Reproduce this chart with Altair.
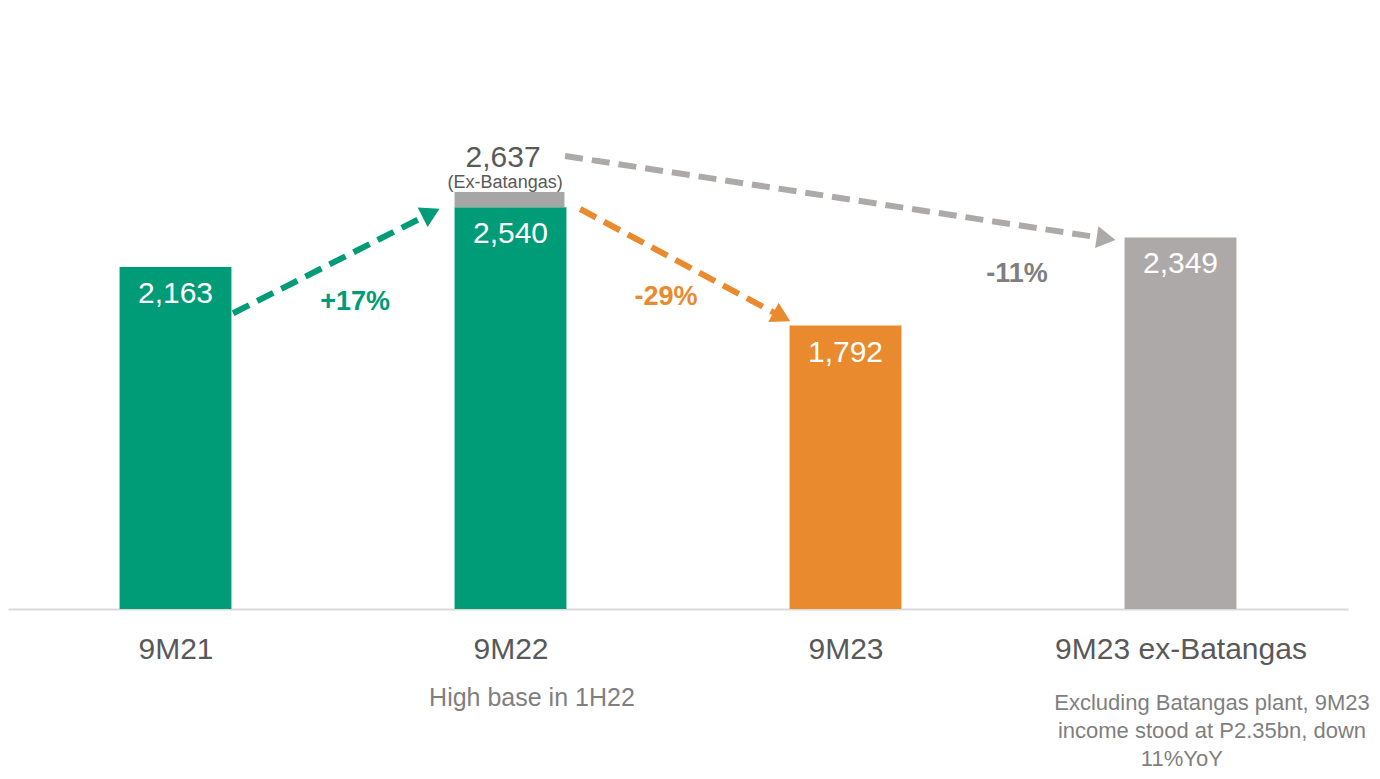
import math
import altair as alt
import pandas as pd

# ---- data ----
categories = ["9M21", "9M22", "9M23", "9M23 ex-Batangas"]
values = [2163, 2540, 1792, 2349]
value_labels = ["2,163", "2,540", "1,792", "2,349"]
bar_colors = ["#009B77", "#009B77", "#E98A2E", "#ADA9A8"]

cap_base = 2540
cap_value = 2637
cap_label = "2,637"
cap_sublabel = "(Ex-Batangas)"

pct_labels = ["+17%", "-29%", "-11%"]
pct_x = [0.536, 1.464, 2.512]
pct_y = [1890, 1922, 2070]
pct_colors = ["#009B77", "#E98A2E", "#7F7F7F"]

arrow_x1 = [0.172, 1.208, 1.163]
arrow_y1 = [1870, 2529, 2864]
arrow_x2 = [0.763, 1.810, 2.778]
arrow_y2 = [2504, 1847, 2342]
arrow_colors = ["#009B77", "#E98A2E", "#ADA9A8"]

notes = ["High base in 1H22",
         "Excluding Batangas plant, 9M23",
         "income stood at P2.35bn, down",
         "11%YoY"]
notes_x = [1.064, 3.094, 3.094, 3.004]
notes_y = [-613, -639, -816, -993]
notes_size = [25, 22, 22, 22]

# ---- layout constants ----
W, H = 1340, 601
Y_MAX = 3800
X_DOM = [-0.5, 3.5]
px_x = W / (X_DOM[1] - X_DOM[0])
px_y = H / Y_MAX
half = 0.167
FONT = "Liberation Sans"

bars = pd.DataFrame({
    "pos": list(range(len(categories))),
    "cat": categories,
    "value": values,
    "label": value_labels,
    "color": bar_colors,
})
bars["x1"] = bars["pos"] - half
bars["x2"] = bars["pos"] + half
bars["zero"] = 0

arrows = pd.DataFrame({
    "x1": arrow_x1, "y1": arrow_y1, "x2": arrow_x2, "y2": arrow_y2,
    "color": arrow_colors,
})
arrows["angle"] = [
    (math.degrees(math.atan2((b - a) * px_x, (d - c) * px_y)) + 360) % 360
    for a, b, c, d in zip(arrow_x1, arrow_x2, arrow_y1, arrow_y2)
]

xscale = alt.Scale(domain=X_DOM, nice=False, zero=False)
yscale = alt.Scale(domain=[0, Y_MAX], nice=False)

label_expr = "[" + ",".join(f"'{c}'" for c in categories) + "][datum.value]"

base = alt.Chart(bars)

bar_layer = base.mark_bar().encode(
    x=alt.X("x1:Q", scale=xscale,
            axis=alt.Axis(values=[0, 1, 2, 3], labelExpr=label_expr, title=None,
                          ticks=False, grid=False, domainColor="#D9D9D9",
                          domainWidth=2, labelFontSize=30, labelColor="#595959",
                          labelFont=FONT, labelPadding=25, labelFlush=False,
                          labelOverlap=False, labelLimit=0)),
    x2="x2:Q",
    y=alt.Y("value:Q", scale=yscale, axis=None),
    y2="zero:Q",
    color=alt.Color("color:N", scale=None),
)

value_text = base.mark_text(font=FONT, fontSize=30, color="white",
                            baseline="alphabetic", dy=36).encode(
    x="pos:Q", y="value:Q", text="label:N")

cap_df = pd.DataFrame({"x1": [1 - half], "x2": [1 + half - 0.006],
                       "y1": [cap_base], "y2": [cap_value]})
cap_layer = alt.Chart(cap_df).mark_bar(color="#A6A6A6").encode(
    x="x1:Q", x2="x2:Q", y="y1:Q", y2="y2:Q")

cap_text_df = pd.DataFrame({
    "x": [0.978, 0.984], "y": [2797, 2660],
    "t": [cap_label, cap_sublabel], "s": [30, 18]})
cap_text = alt.Chart(cap_text_df).mark_text(
    font=FONT, color="#595959", baseline="alphabetic").encode(
    x="x:Q", y="y:Q", text="t:N", size=alt.Size("s:Q", scale=None))

arrow_lines = alt.Chart(arrows).mark_rule(strokeWidth=6, strokeDash=[18, 9]).encode(
    x="x1:Q", y="y1:Q", x2="x2:Q", y2="y2:Q",
    color=alt.Color("color:N", scale=None))

arrow_heads = alt.Chart(arrows).mark_point(shape="triangle-up", filled=True,
                                           size=480, opacity=1).encode(
    x="x2:Q", y="y2:Q",
    angle=alt.Angle("angle:Q", scale=None),
    color=alt.Color("color:N", scale=None))

pct_df = pd.DataFrame({"x": pct_x, "y": pct_y, "t": pct_labels, "color": pct_colors})
pct_text = alt.Chart(pct_df).mark_text(font=FONT, fontSize=27, fontWeight="bold",
                                       baseline="alphabetic").encode(
    x="x:Q", y="y:Q", text="t:N", color=alt.Color("color:N", scale=None))

notes_df = pd.DataFrame({"x": notes_x, "y": notes_y, "t": notes, "s": notes_size})
notes_text = alt.Chart(notes_df).mark_text(font=FONT, color="#7F7F7F",
                                           baseline="alphabetic").encode(
    x="x:Q", y="y:Q", text="t:N", size=alt.Size("s:Q", scale=None))

chart = alt.layer(
    bar_layer, cap_layer, value_text, cap_text,
    arrow_lines, arrow_heads, pct_text, notes_text
).properties(
    width=W, height=H,
    autosize=alt.AutoSizeParams(type="none"),
    padding={"left": 0, "top": 0, "right": 24, "bottom": 162},
).configure_view(stroke=None)

chart.save("out.html", embed_options={"renderer": "svg", "actions": False})
